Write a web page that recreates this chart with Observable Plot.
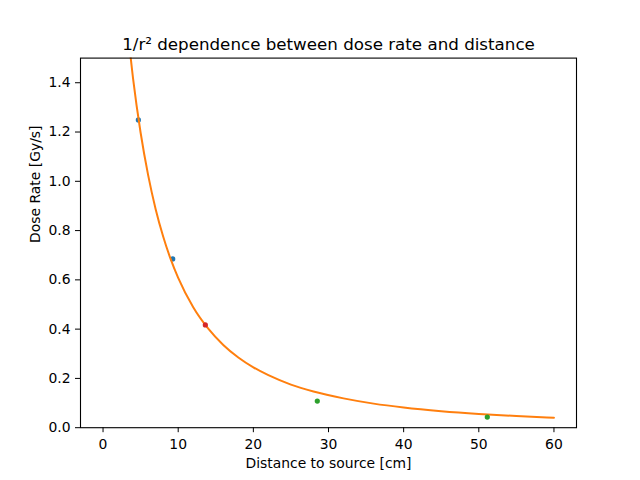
<!DOCTYPE html>
<html>
<head>
<meta charset="utf-8">
<script src="https://cdn.jsdelivr.net/npm/d3@7"></script>
<script src="https://cdn.jsdelivr.net/npm/@observablehq/plot@0.6"></script>
<style>
  html, body { margin: 0; padding: 0; background: #fff; }
</style>
</head>
<body>
<div id="chart"></div>
<script>
// Measured points (distance in cm, dose rate in Gy/s)
const pointDistance = [4.70, 9.27, 13.61, 28.51, 51.13];
const pointDose = [1.249, 0.685, 0.417, 0.108, 0.043];
const pointSeries = ["A", "A", "B", "C", "C"];

// Fitted 1/r² curve
const fitDistance = [3, 4, 5, 6, 7, 8, 9, 10, 12, 14, 16, 18, 20, 22, 25, 28, 32, 36, 40, 45, 50, 55, 60];
const fitDose = [1.701, 1.416, 1.197, 1.025, 0.887, 0.776, 0.684, 0.608, 0.489, 0.402, 0.336, 0.285, 0.245, 0.213, 0.175, 0.147, 0.119, 0.0977, 0.0819, 0.0670, 0.0558, 0.0473, 0.0405];

const xTicks = [0, 10, 20, 30, 40, 50, 60];
const yTicks = [0, 0.2, 0.4, 0.6, 0.8, 1.0, 1.2, 1.4];

const titleText = "1/r² dependence between dose rate and distance";
const xLabel = "Distance to source [cm]";
const yLabel = "Dose Rate [Gy/s]";

const points = pointDistance.map((d, i) => ({x: d, y: pointDose[i], s: pointSeries[i]}));
const fit = fitDistance.map((d, i) => ({x: d, y: fitDose[i]}));

const chart = Plot.plot({
  width: 640,
  height: 480,
  marginLeft: 80,
  marginRight: 64,
  marginTop: 57.6,
  marginBottom: 52.8,
  style: {fontFamily: "DejaVu Sans", fontSize: "13.9px", color: "black", background: "white"},
  x: {domain: [-3, 63], ticks: xTicks, label: null, tickSize: 5, tickPadding: 6, tickFormat: d3.format("d")},
  y: {domain: [0, 1.5], ticks: yTicks, label: null, tickSize: 5, tickPadding: 5, tickFormat: d3.format(".1f")},
  color: {domain: ["A", "B", "C"], range: ["#1f77b4", "#d62728", "#2ca02c"]},
  marks: [
    Plot.dot(points.filter(d => d.s === "A"), {x: "x", y: "y", r: 2.6, fill: "s", stroke: "none"}),
    Plot.line(fit, {x: "x", y: "y", stroke: "#ff7f0e", strokeWidth: 2, curve: "monotone-x", clip: true}),
    Plot.dot(points.filter(d => d.s !== "A"), {x: "x", y: "y", r: 2.6, fill: "s", stroke: "none"}),
    Plot.frame({stroke: "black", strokeWidth: 1.1}),
    Plot.text([titleText], {frameAnchor: "top", text: d => d, dy: -8.3, lineAnchor: "bottom", fontSize: 16.7, fill: "black"}),
    Plot.text([xLabel], {frameAnchor: "bottom", text: d => d, dy: 40, lineAnchor: "bottom", fontSize: 13.9, fill: "black"}),
    Plot.text([yLabel], {frameAnchor: "left", text: d => d, dx: -45, rotate: -90, lineAnchor: "middle", fontSize: 13.9, fill: "black"})
  ]
});
document.getElementById("chart").appendChild(chart);
</script>
</body>
</html>
